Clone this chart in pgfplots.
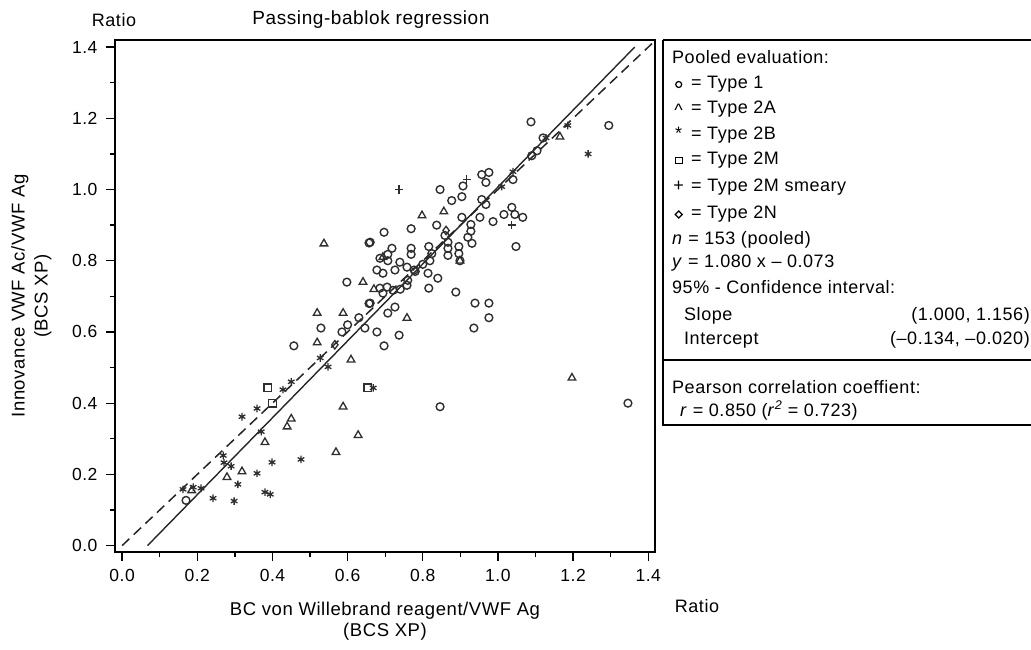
\documentclass[border=0pt]{standalone}
\usepackage{fontspec}
\setmainfont{Liberation Sans}[LetterSpace=3]
\usepackage{pgfplots}
\pgfplotsset{compat=1.18}
\newcommand\lf{\fontsize{18}{22}\selectfont}
\definecolor{mk}{gray}{0.18}
\newcommand\symbox[1]{\makebox[25pt][c]{#1}}
\begin{document}
\begin{tikzpicture}[x=1pt,y=1pt]
\path[use as bounding box] (0,0) rectangle (1031,649);
\clip (0,0) rectangle (1031,649);
\begin{axis}[
  at={(115pt,97pt)}, anchor=south west,
  width=540pt, height=512pt, scale only axis,
  xmin=-0.019, xmax=1.418, ymin=-0.018, ymax=1.42,
  xtick={0,0.2,...,1.4}, ytick={0,0.2,...,1.4},
  minor tick num=1,
  tick pos=left, tick align=outside,
  major tick length=9pt, minor tick length=5pt,
  every tick/.style={line width=1.3pt, black},
  axis line style={line width=1.4pt},
  tick label style={font=\fontsize{17.5}{20}\selectfont},
  xticklabel style={yshift=-5pt},
  yticklabel style={xshift=-5pt},
  /pgf/number format/.cd, fixed, fixed zerofill, precision=1, assume math mode=true,
  /pgfplots/.cd,
  xlabel={BC von Willebrand reagent/VWF Ag\\[-1pt](BCS XP)},
  ylabel={Innovance VWF Ac/VWF Ag\\[1pt](BCS XP)},
  xlabel style={align=center, font=\fontsize{18.5}{22}\selectfont, at={(axis description cs:0.5,-0.135)}, anchor=center},
  ylabel style={align=center, font=\fontsize{18.5}{22}\selectfont, at={(axis description cs:-0.155,0.5)}, anchor=center},
  clip=true,
]
% identity line
\addplot[black!85, line width=1.5pt, dash pattern=on 10pt off 6pt] coordinates {(0,0) (1.41,1.41)};
% Passing-Bablok regression y = 1.080x - 0.073
\addplot[black!85, line width=1.4pt] coordinates {(0.0676,0) (1.3639,1.4)};
% Type 1
\addplot[only marks, mark=o, mark size=3.9pt, mk, line width=1.4pt] coordinates {
(1.088,1.19) (1.295,1.18) (1.12,1.145) (0.846,1.0) (0.907,1.01) (0.957,1.042) (0.976,1.048) (0.968,1.02)
(0.904,0.98) (0.877,0.969) (0.769,0.89) (0.697,0.88) (0.837,0.9) (0.957,0.972) (0.968,0.958) (1.04,1.028)
(0.904,0.922) (0.928,0.902) (0.928,0.883) (0.92,0.866) (0.931,0.849) (0.952,0.922) (0.987,0.91) (1.016,0.93)
(1.037,0.95) (1.045,0.93) (1.066,0.922) (1.048,0.84) (0.859,0.871) (0.867,0.852) (0.867,0.835) (0.867,0.815)
(0.896,0.84) (0.896,0.82) (0.816,0.84) (0.718,0.835) (0.707,0.818) (0.769,0.835) (0.769,0.818) (0.66,0.852)
(0.686,0.807) (0.707,0.80) (0.678,0.774) (0.694,0.765) (0.726,0.774) (0.739,0.796) (0.758,0.782) (0.777,0.774)
(0.819,0.80) (0.824,0.82) (0.899,0.80) (0.814,0.765) (0.84,0.751) (0.816,0.723) (0.888,0.712) (0.939,0.681)
(0.976,0.681) (0.726,0.67) (0.758,0.731) (0.976,0.64) (0.936,0.611) (0.707,0.653) (0.678,0.60) (0.737,0.591)
(0.697,0.561) (0.846,0.39) (1.346,0.40) (0.657,0.68) (0.529,0.611) (0.457,0.561) (0.585,0.60) (0.646,0.611)
(0.657,0.85) (0.598,0.74) (0.686,0.723) (0.705,0.726) (0.694,0.709) (0.721,0.717) (0.66,0.681) (0.17,0.127)
(1.09,1.095) (1.104,1.109) (0.74,0.72) (0.78,0.77) (0.80,0.79) (0.76,0.745) (0.63,0.64) (0.60,0.62)
};
% Type 2A
\addplot[only marks, mark=triangle, mark size=4.4pt, mk, line width=1.3pt] coordinates {
(1.165,1.148) (0.856,0.938) (0.798,0.927) (0.694,0.81) (0.758,0.639) (0.519,0.653) (0.588,0.653) (0.519,0.57)
(0.609,0.522) (0.45,0.356) (0.439,0.334) (0.588,0.39) (0.628,0.31) (0.38,0.29) (0.569,0.262) (0.319,0.208)
(0.279,0.192) (1.197,0.471) (0.537,0.848) (0.641,0.74) (0.67,0.72) (0.185,0.155) (0.899,0.80)
};
% Type 2B
\addplot[only marks, mark=asterisk, mark size=3.8pt, mk, line width=1.3pt] coordinates {
(1.186,1.18) (1.24,1.10) (1.01,1.008) (1.04,1.05) (0.548,0.502) (0.527,0.527) (0.428,0.438) (0.45,0.46)
(0.359,0.385) (0.319,0.362) (0.37,0.32) (0.399,0.234) (0.476,0.242) (0.269,0.253) (0.271,0.233) (0.29,0.223)
(0.359,0.203) (0.308,0.172) (0.38,0.15) (0.394,0.144) (0.242,0.133) (0.298,0.125) (0.162,0.158) (0.189,0.164)
(0.21,0.161) (1.128,1.145) (0.668,0.443)
};
% Type 2M
\addplot[only marks, mark=square, mark size=3.8pt, mk, line width=1.3pt] coordinates {
(0.388,0.443) (0.40,0.40) (0.654,0.443)
};
% Type 2M smeary
\addplot[only marks, mark=+, mark size=4.2pt, mk, line width=1.3pt] coordinates {
(0.737,1.0) (0.917,1.028) (1.037,0.90)
};
% Type 2N
\addplot[only marks, mark=diamond, mark size=4.2pt, mk, line width=1.3pt] coordinates {
(0.566,0.564) (0.862,0.885)
};
\end{axis}
% titles
\node[font=\lf] at (114,629) {Ratio};
\node[font=\fontsize{19}{22}\selectfont] at (371,629) {Passing-bablok regression};
\node[font=\lf] at (697,43) {Ratio};
% legend box
\draw[line width=1.2pt] (663,609) -- (1040,609);
\draw[line width=1.2pt] (663,609) -- (663,224) -- (1040,224);
\draw[line width=1.2pt] (663,289) -- (1040,289);
\begin{scope}[every node/.style={font=\lf, anchor=base west, inner sep=0pt}]
\node at (672,585) {Pooled evaluation:};
\node at (666,560) {\symbox{\tikz[baseline=-4.5pt]\draw[line width=1.2pt] (0pt,0pt) circle (3pt);}= Type 1};
\node at (666,535) {\symbox{\raisebox{-3pt}{\textasciicircum}}= Type 2A};
\node at (666,509) {\symbox{*}= Type 2B};
\node at (666,484) {\symbox{\tikz[baseline=-4.5pt]\draw[line width=1.2pt] (-3.5pt,-3pt) rectangle (3.5pt,3pt);}= Type 2M};
\node at (666,457) {\symbox{+}= Type 2M smeary};
\node at (666,430) {\symbox{\tikz[baseline=-4.5pt]\draw[line width=1.2pt] (-3.5pt,0pt) -- (0pt,3.5pt) -- (3.5pt,0pt) -- (0pt,-3.5pt) -- cycle;}= Type 2N};
\node at (672,404) {\textit{n} = 153 (pooled)};
\node at (672,381) {\textit{y} = 1.080 x – 0.073};
\node at (672,355) {95\% - Confidence interval:};
\node at (684,328) {Slope};
\node at (684,305) {Intercept};
\node at (672,256) {Pearson correlation coeffient:};
\node at (680,233) {\textit{r} = 0.850 (\textit{r}$^{\mathit{2}}$ = 0.723)};
\end{scope}
\begin{scope}[every node/.style={font=\lf, anchor=base east, inner sep=0pt}]
\node at (1030,328) {(1.000, 1.156)};
\node at (1030,305) {(–0.134, –0.020)};
\end{scope}
\end{tikzpicture}
\end{document}
